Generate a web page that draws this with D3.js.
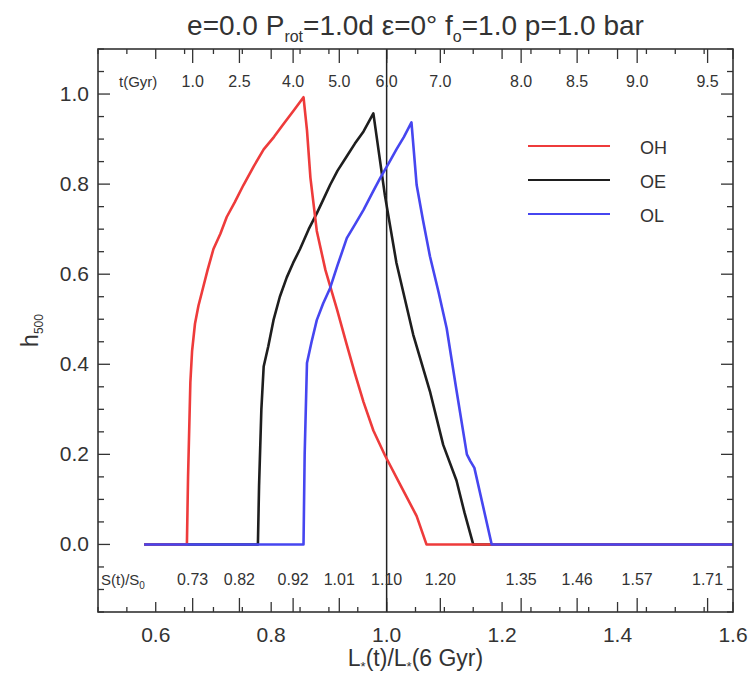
<!DOCTYPE html>
<html>
<head>
<meta charset="utf-8">
<script src="https://cdn.jsdelivr.net/npm/d3@7"></script>
<style>
  body { margin: 0; background: #fff; }
  svg { display: block; }
  text { font-family: "Liberation Sans", Arial, Helvetica, sans-serif; fill: #333; }
</style>
</head>
<body>
<div id="chart"></div>
<script>
// luminosity ratio L(t)/L(6 Gyr) and h500 for each ocean case
const ohL = [0.58, 0.654, 0.656, 0.660, 0.663, 0.668, 0.674, 0.680, 0.690, 0.700, 0.712, 0.723, 0.737, 0.752, 0.770, 0.787, 0.805, 0.821, 0.840, 0.856, 0.862, 0.868, 0.879, 0.894, 0.914, 0.931, 0.945, 0.960, 0.977, 0.997, 1.023, 1.052, 1.069, 1.6]
const ohH = [0, 0, 0.15, 0.36, 0.43, 0.49, 0.53, 0.56, 0.61, 0.656, 0.69, 0.727, 0.76, 0.798, 0.84, 0.877, 0.905, 0.933, 0.965, 0.993, 0.92, 0.814, 0.696, 0.609, 0.522, 0.443, 0.38, 0.316, 0.253, 0.198, 0.134, 0.063, 0, 0]

const oeL = [0.58, 0.777, 0.779, 0.783, 0.787, 0.795, 0.804, 0.815, 0.827, 0.838, 0.850, 0.865, 0.879, 0.890, 0.902, 0.915, 0.931, 0.945, 0.960, 0.977, 0.997, 1.017, 1.046, 1.075, 1.098, 1.121, 1.135, 1.150, 1.6]
const oeH = [0, 0, 0.13, 0.30, 0.395, 0.44, 0.498, 0.55, 0.593, 0.625, 0.656, 0.70, 0.735, 0.765, 0.798, 0.83, 0.862, 0.89, 0.917, 0.957, 0.775, 0.625, 0.466, 0.34, 0.221, 0.142, 0.07, 0, 0]

const olL = [0.58, 0.856, 0.858, 0.862, 0.870, 0.879, 0.890, 0.902, 0.915, 0.931, 0.945, 0.960, 0.975, 0.989, 1.003, 1.017, 1.030, 1.043, 1.052, 1.063, 1.075, 1.090, 1.104, 1.12, 1.139, 1.145, 1.152, 1.182, 1.6]
const olH = [0, 0, 0.2, 0.403, 0.45, 0.498, 0.535, 0.569, 0.62, 0.68, 0.71, 0.743, 0.78, 0.814, 0.845, 0.877, 0.905, 0.937, 0.798, 0.72, 0.64, 0.56, 0.48, 0.35, 0.2, 0.185, 0.17, 0, 0]

// secondary axes: stellar age (top) and flux S(t)/S0 (bottom) at the same luminosities
const ageTicks = ["1.0", "2.5", "4.0", "5.0", "6.0", "7.0", "8.0", "8.5", "9.0", "9.5"]
const fluxTicks = ["0.73", "0.82", "0.92", "1.01", "1.10", "1.20", "1.35", "1.46", "1.57", "1.71"]
const secondaryL = [0.664, 0.745, 0.838, 0.918, 1.0, 1.093, 1.233, 1.33, 1.434, 1.556]

const xTicks = [0.6, 0.8, 1.0, 1.2, 1.4, 1.6]
const yTicks = [0.0, 0.2, 0.4, 0.6, 0.8, 1.0]

const seriesNames = ["OH", "OE", "OL"]
const seriesColors = ["#ee3b3b", "#1e1e1e", "#4646f0"]

const width = 751
const height = 675
const margin = { top: 49, right: 18, bottom: 63, left: 98 }

const x = d3.scaleLinear().domain([0.5, 1.6]).range([margin.left, width - margin.right])
const y = d3.scaleLinear().domain([-0.15, 1.1]).range([height - margin.bottom, margin.top])

const svg = d3.select("#chart").append("svg")
    .attr("width", width)
    .attr("height", height)

const axisColor = "#333"

// ticks, IDL style: inward, on all four sides
function ticks(lo, hi, step) {
  const out = []
  for (let i = 0; lo + i * step <= hi + 1e-9; i++) out.push(+(lo + i * step).toFixed(4))
  return out
}
const xMinor = ticks(0.5, 1.6, 0.05)
const yMinor = ticks(-0.15, 1.1, 0.05)

const tickG = svg.append("g").attr("stroke", axisColor).attr("stroke-width", 1.3)

const isMajor = (v, step) => Math.abs(v / step - Math.round(v / step)) < 1e-6

tickG.selectAll(".xb").data(xMinor).join("line")
    .attr("x1", d => x(d)).attr("x2", d => x(d))
    .attr("y1", y.range()[0]).attr("y2", d => y.range()[0] - (isMajor(d, 0.2) ? 10 : 5))
tickG.selectAll(".xt").data(xMinor).join("line")
    .attr("x1", d => x(d)).attr("x2", d => x(d))
    .attr("y1", y.range()[1]).attr("y2", d => y.range()[1] + (isMajor(d, 0.2) ? 10 : 5))
tickG.selectAll(".yl").data(yMinor).join("line")
    .attr("y1", d => y(d)).attr("y2", d => y(d))
    .attr("x1", x.range()[0]).attr("x2", d => x.range()[0] + (isMajor(d, 0.2) ? 12 : 6))
tickG.selectAll(".yr").data(yMinor).join("line")
    .attr("y1", d => y(d)).attr("y2", d => y(d))
    .attr("x1", x.range()[1]).attr("x2", d => x.range()[1] - (isMajor(d, 0.2) ? 12 : 6))

// tall ticks for the age / flux labels
tickG.selectAll(".st").data(secondaryL).join("line")
    .attr("x1", d => x(d)).attr("x2", d => x(d))
    .attr("y1", y.range()[1]).attr("y2", y.range()[1] + 14)
tickG.selectAll(".sb").data(secondaryL).join("line")
    .attr("x1", d => x(d)).attr("x2", d => x(d))
    .attr("y1", y.range()[0]).attr("y2", y.range()[0] - 14)

// reference line at L = L(6 Gyr)
svg.append("line")
    .attr("x1", x(1.0)).attr("x2", x(1.0))
    .attr("y1", y.range()[1]).attr("y2", y.range()[0])
    .attr("stroke", "#222").attr("stroke-width", 1.5)

// curves
const line = d3.line().x(d => x(d[0])).y(d => y(d[1]))
const series = [
  { L: oeL, H: oeH, i: 1 },
  { L: ohL, H: ohH, i: 0 },
  { L: olL, H: olH, i: 2 }
]
series.forEach(s => {
  svg.append("path")
      .datum(d3.zip(s.L, s.H))
      .attr("fill", "none")
      .attr("stroke", seriesColors[s.i])
      .attr("stroke-width", 2.6)
      .attr("stroke-linejoin", "round")
      .attr("d", line)
})

// frame
svg.append("rect")
    .attr("x", x.range()[0]).attr("y", y.range()[1])
    .attr("width", x.range()[1] - x.range()[0])
    .attr("height", y.range()[0] - y.range()[1])
    .attr("fill", "none").attr("stroke", axisColor).attr("stroke-width", 1.6)

// tick labels
svg.append("g").selectAll("text").data(xTicks).join("text")
    .attr("x", d => x(d)).attr("y", height - margin.bottom + 30)
    .attr("text-anchor", "middle").attr("font-size", 21)
    .text(d => d3.format(".1f")(d))

svg.append("g").selectAll("text").data(yTicks).join("text")
    .attr("x", margin.left - 9).attr("y", d => y(d) + 7)
    .attr("text-anchor", "end").attr("font-size", 21)
    .text(d => d3.format(".1f")(d))

svg.append("g").selectAll("text").data(ageTicks).join("text")
    .attr("x", (d, i) => x(secondaryL[i])).attr("y", margin.top + 38)
    .attr("text-anchor", "middle").attr("font-size", 16)
    .text(d => d)

svg.append("g").selectAll("text").data(fluxTicks).join("text")
    .attr("x", (d, i) => x(secondaryL[i])).attr("y", y.range()[0] - 27)
    .attr("text-anchor", "middle").attr("font-size", 16)
    .text(d => d)

svg.append("text")
    .attr("x", margin.left + 21).attr("y", margin.top + 38)
    .attr("font-size", 15)
    .text("t(Gyr)")

const sLab = svg.append("text")
    .attr("x", margin.left + 3).attr("y", y.range()[0] - 27)
    .attr("font-size", 15)
sLab.append("tspan").text("S(t)/S")
sLab.append("tspan").attr("font-size", 10).attr("dy", 4).text("0")

// title
const title = svg.append("text")
    .attr("x", (x.range()[0] + x.range()[1]) / 2).attr("y", 35)
    .attr("text-anchor", "middle").attr("font-size", 28)
title.append("tspan").text("e=0.0 P")
title.append("tspan").attr("font-size", 16).attr("dy", 7).text("rot")
title.append("tspan").attr("dy", -7).text("=1.0d ε=0° f")
title.append("tspan").attr("font-size", 16).attr("dy", 7).text("o")
title.append("tspan").attr("dy", -7).text("=1.0 p=1.0 bar")

// axis titles
const xt = svg.append("text")
    .attr("x", (x.range()[0] + x.range()[1]) / 2).attr("y", height - 9)
    .attr("text-anchor", "middle").attr("font-size", 23)
xt.append("tspan").text("L")
xt.append("tspan").attr("font-size", 13).attr("dy", 5).text("*")
xt.append("tspan").attr("dy", -5).text("(t)/L")
xt.append("tspan").attr("font-size", 13).attr("dy", 5).text("*")
xt.append("tspan").attr("dy", -5).text("(6 Gyr)")

const yt = svg.append("text")
    .attr("transform", `translate(38,${(y.range()[0] + y.range()[1]) / 2}) rotate(-90)`)
    .attr("text-anchor", "middle").attr("font-size", 23)
yt.append("tspan").text("h")
yt.append("tspan").attr("font-size", 12).attr("dy", 5).text("500")

// legend
const legend = svg.append("g")
seriesNames.forEach((name, i) => {
  const ly = 146 + i * 34
  legend.append("line")
      .attr("x1", 528).attr("x2", 610).attr("y1", ly).attr("y2", ly)
      .attr("stroke", seriesColors[i]).attr("stroke-width", 2.2)
  legend.append("text")
      .attr("x", 640).attr("y", ly + 8)
      .attr("font-size", 18)
      .text(name)
})
</script>
</body>
</html>
